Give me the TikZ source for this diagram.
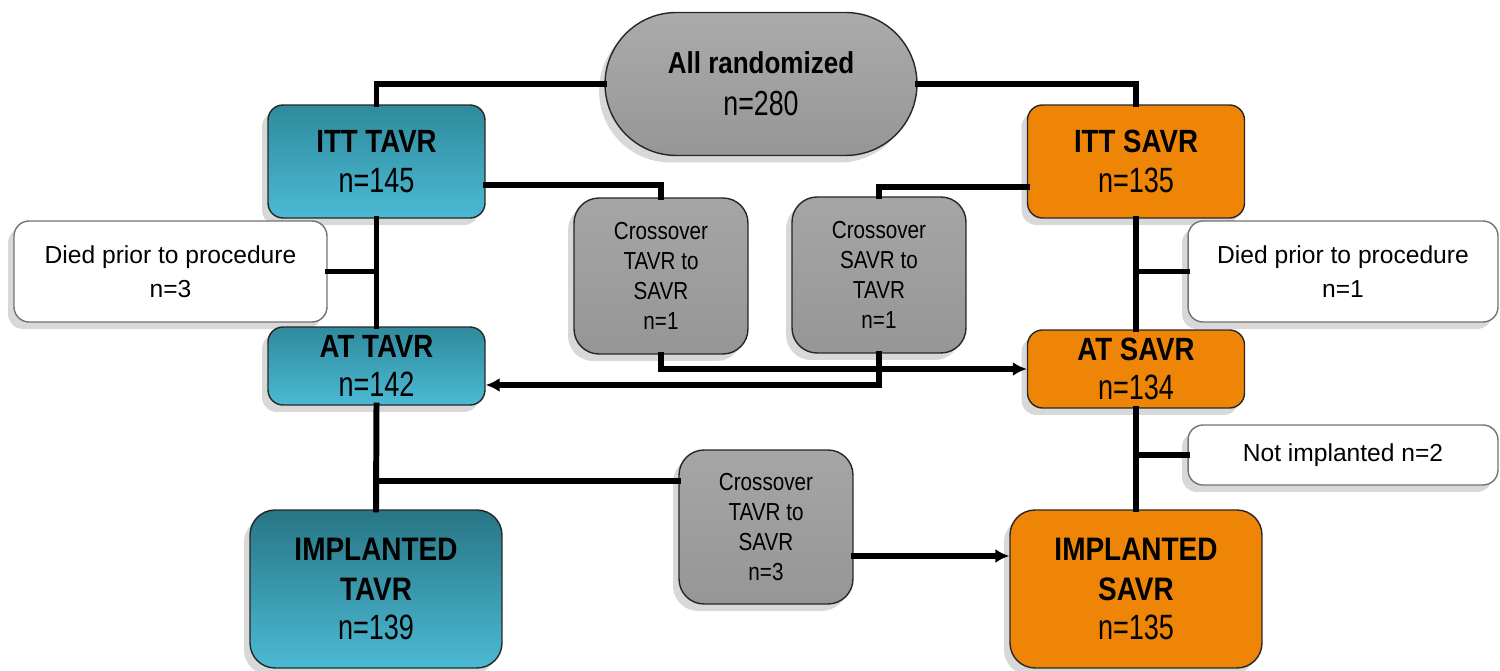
\documentclass[tikz,border=0pt]{standalone}
\usepackage{fontspec}
\setmainfont{Liberation Sans}
\newfontfamily\titlefont[FakeStretch=0.86]{Liberation Sans}
\newfontfamily\countfont[FakeStretch=0.77]{Liberation Sans}
\newfontfamily\crossfont[FakeStretch=0.84]{Liberation Sans}
\newcommand{\countline}[1]{{\countfont\fontsize{20}{22.7}\selectfont #1}}
\usetikzlibrary{arrows.meta,shadows}
\definecolor{tealtop}{HTML}{2F8A9C}
\definecolor{tealbot}{HTML}{4BBAD4}
\definecolor{orangebox}{HTML}{EE8506}
\definecolor{graybox}{HTML}{969696}
\begin{document}
\begin{tikzpicture}[x=0.02cm,y=-0.02cm,
    softshadow/.style={drop shadow={shadow xshift=-0.12cm,shadow yshift=-0.14cm,opacity=0.22,fill=black!70}},
    box/.style={rectangle,draw=black!85,line width=0.8pt,align=center,inner sep=0pt,softshadow},
    tavrbox/.style={box,rounded corners=0.3cm,top color=tealtop,bottom color=tealbot,
        font=\titlefont\fontsize{18.3}{22.7}\selectfont},
    savrbox/.style={box,rounded corners=0.3cm,fill=orangebox,
        font=\titlefont\fontsize{18.3}{22.7}\selectfont},
    crossbox/.style={box,rounded corners=0.5cm,top color=graybox!85!white,bottom color=graybox,
        minimum width=3.48cm,text=black,font=\crossfont\fontsize{14}{17}\selectfont},
    notebox/.style={box,draw=black!55,rounded corners=0.3cm,fill=white,
        font=\fontsize{14}{19.3}\selectfont},
    link/.style={line width=3.4pt,line cap=rect},
    arrowlink/.style={link,-{Latex[length=8pt,width=8pt]}}]
\useasboundingbox (0,0) rectangle (1500,671);

% top
\node[box,rounded corners=1.43cm,top color=graybox!80!white,bottom color=graybox,
    minimum width=6.24cm,minimum height=2.86cm,
    font=\titlefont\fontsize{17.2}{23.8}\selectfont] (rand) at (761,84)
    {\bfseries All randomized\\{\countfont\fontsize{19.8}{23.8}\selectfont n=280}};

% intention to treat
\node[tavrbox,minimum width=4.34cm,minimum height=2.26cm] (itttavr) at (376.5,161.5)
    {\bfseries ITT TAVR\\\countline{n=145}};
\node[savrbox,minimum width=4.34cm,minimum height=2.26cm] (ittsavr) at (1136,161.5)
    {\bfseries ITT SAVR\\\countline{n=135}};

% crossovers before procedure
\node[crossbox,minimum height=3.12cm] (crossone) at (661,276)
    {Crossover\\TAVR to\\SAVR\\n=1};
\node[crossbox,minimum height=3.12cm] (crosstwo) at (879,275)
    {Crossover\\SAVR to\\TAVR\\n=1};

\node[notebox,minimum width=6.26cm,minimum height=2.02cm] (diedtavr) at (170.5,271.5)
    {Died prior to procedure\\n=3};
\node[notebox,minimum width=6.2cm,minimum height=2.02cm] (diedsavr) at (1343,271.5)
    {Died prior to procedure\\n=1};

% as treated
\node[tavrbox,minimum width=4.34cm,minimum height=1.56cm] (attavr) at (376.5,366)
    {\bfseries AT TAVR\\\countline{n=142}};
\node[savrbox,minimum width=4.34cm,minimum height=1.56cm] (atsavr) at (1136,369)
    {\bfseries AT SAVR\\\countline{n=134}};

\node[crossbox,minimum height=3.08cm] (crossthree) at (766,527)
    {Crossover\\TAVR to\\SAVR\\n=3};
\node[notebox,minimum width=6.2cm,minimum height=1.2cm] (notimpl) at (1343,455)
    {Not implanted n=2};

% implanted
\node[tavrbox,rounded corners=0.5cm,top color=tealtop!85!black,minimum width=5.04cm,minimum height=3.16cm,
    font=\titlefont\fontsize{18.5}{22.7}\selectfont] (impltavr) at (376,589)
    {\bfseries IMPLANTED\\\bfseries TAVR\\\countline{n=139}};
\node[savrbox,rounded corners=0.5cm,minimum width=5.04cm,minimum height=3.16cm,
    font=\titlefont\fontsize{18.5}{22.7}\selectfont] (implsavr) at (1136,589)
    {\bfseries IMPLANTED\\\bfseries SAVR\\\countline{n=135}};

% connectors
\draw[link] (rand.west) -| (itttavr.north);
\draw[link] (rand.east) -| (ittsavr.north);
\draw[link] ([yshift=-0.47cm]itttavr.east) -| (crossone.north);
\draw[link] ([yshift=-0.51cm]ittsavr.west) -| (crosstwo.north);
\draw[link] (itttavr.south) -- (attavr.north);
\draw[link] (ittsavr.south) -- (atsavr.north);
\draw[link] (diedtavr.east) -- (diedtavr.east -| itttavr.south);
\draw[link] (diedsavr.west) -- (diedsavr.west -| ittsavr.south);
\draw[arrowlink] (crossone.south) |- (atsavr.west);
\draw[arrowlink] (crosstwo.south) |- ([yshift=-0.38cm]attavr.east);
\draw[link] (attavr.south) -- (impltavr.north);
\draw[link] (atsavr.south) -- (implsavr.north);
\draw[link] ([yshift=0.92cm]crossthree.west) -- ([yshift=0.92cm]crossthree.west -| attavr.south);
\draw[arrowlink] ([yshift=-0.58cm]crossthree.east) -- ([yshift=-0.58cm]crossthree.east -| implsavr.west);
\draw[link] (notimpl.west) -- (notimpl.west -| atsavr.south);
\end{tikzpicture}
\end{document}
